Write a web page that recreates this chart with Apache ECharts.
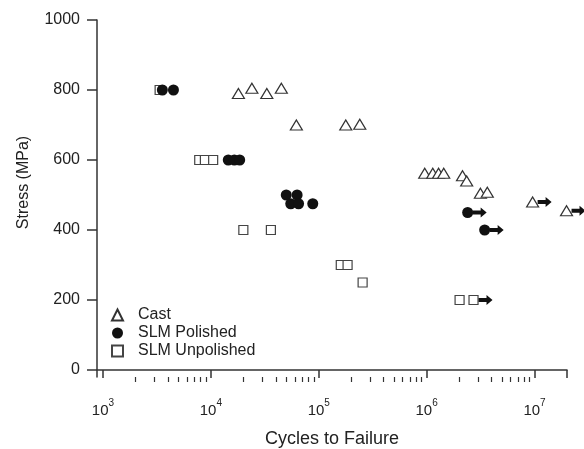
<!DOCTYPE html>
<html>
<head>
    <meta charset="utf-8" />
    <title>Stress vs Cycles to Failure</title>
    <script src="https://cdn.jsdelivr.net/npm/echarts@6/dist/echarts.min.js"></script>
    <style type="text/css">
        html,
        body {
            width: 100%;
            height: 100%;
            margin: 0;
            background: #fff;
        }

        #main {
            width: 584px;
            height: 449px;
        }
    </style>
</head>

<body>
    <div id="main"></div>
    <script>
        // Cast
        var castN = [18000, 24000, 33000, 45000, 62000, 178000, 240000, 960000, 1140000, 1290000, 1440000, 2150000, 2350000, 3150000, 3650000, 9600000, 19800000];
        var castS = [790, 805, 790, 805, 700, 700, 702, 562, 562, 562, 562, 555, 540, 505, 508, 480, 455];
        var castRunout = [0, 0, 0, 0, 0, 0, 0, 0, 0, 0, 0, 0, 0, 0, 0, 1, 1];

        // SLM Polished
        var polishedN = [3550, 4500, 14500, 16500, 18500, 50000, 63000, 55000, 65000, 88000, 2400000, 3450000];
        var polishedS = [800, 800, 600, 600, 600, 500, 500, 475, 475, 475, 450, 400];
        var polishedRunout = [0, 0, 0, 0, 0, 0, 0, 0, 0, 0, 1, 1];

        // SLM Unpolished
        var unpolishedN = [3350, 7800, 8800, 10500, 20000, 36000, 160000, 185000, 255000, 2020000, 2720000];
        var unpolishedS = [800, 600, 600, 600, 400, 400, 300, 300, 250, 200, 200];
        var unpolishedRunout = [0, 0, 0, 0, 0, 0, 0, 0, 0, 0, 1];

        var xMajorTicks = [1000, 10000, 100000, 1000000, 10000000, 20000000];
        var xLabels = [1000, 10000, 100000, 1000000, 10000000];
        var yTicks = [0, 200, 400, 600, 800, 1000];

        var xMinorTicks = [];
        for (var d = 1000; d <= 1000000; d *= 10) {
            for (var m = 2; m <= 9; m++) xMinorTicks.push(m * d);
        }

        function pairs(xs, ys) {
            return xs.map(function (x, i) { return [x, ys[i]]; });
        }
        var runouts = [];
        [[castN, castS, castRunout], [polishedN, polishedS, polishedRunout], [unpolishedN, unpolishedS, unpolishedRunout]].forEach(function (g) {
            g[2].forEach(function (r, i) { if (r) runouts.push([g[0][i], g[1][i]]); });
        });

        var font = '"Liberation Sans", Arial, sans-serif';
        var ink = '#222';

        var myChart = echarts.init(document.getElementById('main'));
        var option = {
            backgroundColor: '#fff',
            animation: false,
            textStyle: { fontFamily: font, color: ink },
            grid: { left: 97, top: 20, right: 17, bottom: 72, containLabel: false, outerBoundsMode: 'none' },
            legend: {
                data: ['Cast', 'SLM Polished', 'SLM Unpolished'],
                orient: 'vertical',
                left: 106,
                top: 302,
                itemWidth: 11,
                itemHeight: 11,
                itemGap: 2,
                textStyle: { fontFamily: font, fontSize: 16, color: ink, padding: [0, 0, 0, 10] }
            },
            xAxis: [{
                type: 'log',
                min: 880,
                max: 20000000,
                name: 'Cycles to Failure',
                nameLocation: 'middle',
                nameGap: 53,
                nameTextStyle: { fontFamily: font, fontSize: 18, color: ink },
                axisLine: { lineStyle: { color: '#333', width: 1.5 } },
                axisTick: { customValues: xMajorTicks, length: 8, lineStyle: { color: '#333', width: 1.5 } },
                splitLine: { show: false },
                minorTick: { show: false },
                axisLabel: {
                    customValues: xLabels,
                    margin: 19,
                    formatter: function (v) {
                        return '{b|10}{s|' + Math.round(Math.log10(v)) + '}';
                    },
                    rich: {
                        b: { fontFamily: font, fontSize: 15, lineHeight: 22, color: ink, verticalAlign: 'bottom' },
                        s: { fontFamily: font, fontSize: 10, color: ink, verticalAlign: 'top', padding: [2, 0, 0, 0] }
                    }
                }
            }, {
                type: 'log',
                position: 'bottom',
                min: 880,
                max: 20000000,
                axisLine: { show: false },
                axisTick: { customValues: xMinorTicks, length: 5, lineStyle: { color: '#333', width: 1.2 } },
                axisLabel: { show: false },
                splitLine: { show: false }
            }],
            yAxis: {
                type: 'value',
                min: -20,
                max: 1000,
                name: 'Stress (MPa)',
                nameLocation: 'middle',
                nameGap: 65,
                nameTextStyle: { fontFamily: font, fontSize: 16, color: ink, padding: [0, 0, 0, 32] },
                axisLine: { show: true, lineStyle: { color: '#333', width: 1.5 } },
                axisTick: { show: true, customValues: yTicks, length: 10, lineStyle: { color: '#333', width: 1.5 } },
                splitLine: { show: false },
                axisLabel: {
                    customValues: yTicks, margin: 17, fontFamily: font, fontSize: 16, color: ink,
                    formatter: function (v) { return String(v); }
                }
            },
            series: [{
                name: 'Cast',
                type: 'scatter',
                clip: false,
                symbol: 'triangle',
                symbolSize: [12, 10],
                itemStyle: { color: '#fff', borderColor: '#333', borderWidth: 1.2, opacity: 1 },
                data: pairs(castN, castS)
            }, {
                name: 'SLM Unpolished',
                type: 'scatter',
                clip: false,
                symbol: 'rect',
                symbolSize: 9,
                itemStyle: { color: '#fff', borderColor: '#444', borderWidth: 1.2, opacity: 1 },
                data: pairs(unpolishedN, unpolishedS)
            }, {
                name: 'SLM Polished',
                type: 'scatter',
                clip: false,
                z: 3,
                symbol: 'circle',
                symbolSize: 11,
                itemStyle: { color: '#111', opacity: 1 },
                data: pairs(polishedN, polishedS)
            }, {
                name: 'runout',
                type: 'scatter',
                clip: false,
                symbol: 'path://M0,3 L8,3 L8,0 L14,5 L8,10 L8,7 L0,7 Z',
                symbolSize: [14, 10],
                symbolOffset: [12, 0],
                itemStyle: { color: '#111', opacity: 1 },
                data: runouts
            }]
        };
        myChart.setOption(option);
    </script>
</body>
</html>
